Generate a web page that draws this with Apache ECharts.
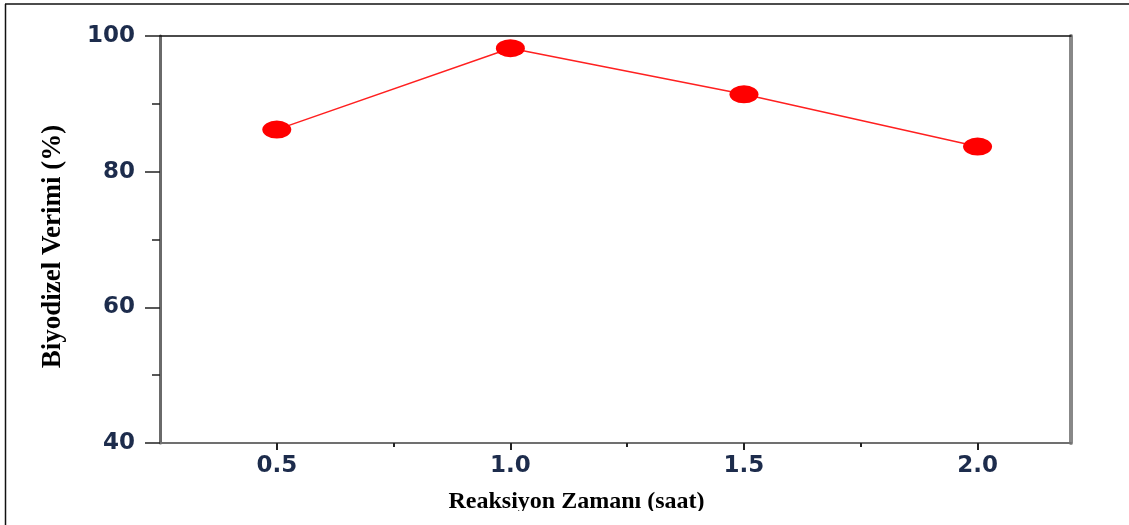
<!DOCTYPE html>
<html>
<head>
<meta charset="utf-8">
<script src="https://cdn.jsdelivr.net/npm/echarts@6/dist/echarts.min.js"></script>
<style>
html,body{margin:0;padding:0;background:#fff;}
#chart{width:1129px;height:525px;}
</style>
</head>
<body>
<div id="chart"></div>
<script>
// Data
const times = [0.5, 1.0, 1.5, 2.0];
const yields = [86.2, 98.2, 91.4, 83.7];
const xMajorTicks = [0.5, 1.0, 1.5, 2.0];
const xMinorTicks = [0.75, 1.25, 1.75];
const yTickLabels = [40, 60, 80, 100];
const xTitle = 'Reaksiyon Zamanı (saat)';
const yTitle = 'Biyodizel Verimi (%)';

const labelColor = '#1d2c4c';
const labelFont = {fontFamily: 'DejaVu Sans', fontWeight: 'bold', fontSize: 23, color: labelColor};

const chart = echarts.init(document.getElementById('chart'), null, {renderer: 'canvas'});
chart.setOption({
  animation: false,
  backgroundColor: '#ffffff',
  grid: {left: 160, right: 58, top: 36, bottom: 82, containLabel: false},
  xAxis: [
    {
      type: 'value', min: 0.25, max: 2.2, position: 'bottom',
      axisLine: {show: true, lineStyle: {color: '#707070', width: 2}},
      axisTick: {show: true, customValues: xMajorTicks, length: 7, lineStyle: {color: '#222', width: 2}},
      axisLabel: Object.assign({customValues: xMajorTicks, margin: 12, formatter: v => Number(v).toFixed(1)}, labelFont),
      splitLine: {show: false},
      name: xTitle, nameLocation: 'middle', nameGap: 47,
      nameTextStyle: {fontFamily: 'Liberation Serif', fontWeight: 'bold', fontSize: 24, color: '#000', padding: [0, 78, 0, 0]}
    },
    {
      type: 'value', min: 0.25, max: 2.2, position: 'bottom',
      axisLine: {show: false},
      axisTick: {show: true, customValues: xMinorTicks, length: 4, lineStyle: {color: '#222', width: 2}},
      axisLabel: {show: false},
      splitLine: {show: false}
    },
    {
      type: 'value', min: 0.25, max: 2.2, position: 'top',
      axisLine: {show: true, lineStyle: {color: '#111', width: 1.5}},
      axisTick: {show: false}, axisLabel: {show: false}, splitLine: {show: false}
    }
  ],
  yAxis: [
    {
      type: 'value', min: yTickLabels[0], max: yTickLabels[yTickLabels.length - 1], interval: 20, position: 'left',
      axisLine: {show: true, lineStyle: {color: '#6a6a6a', width: 3}},
      axisTick: {show: true, length: 15, lineStyle: {color: '#222', width: 1.5}},
      minorTick: {show: true, splitNumber: 2, length: 8, lineStyle: {color: '#222', width: 1.5}},
      axisLabel: Object.assign({margin: 25, formatter: v => String(v)}, labelFont),
      splitLine: {show: false},
      name: yTitle, nameLocation: 'middle', nameGap: 93,
      nameTextStyle: {fontFamily: 'Liberation Serif', fontWeight: 'bold', fontSize: 27, color: '#000', padding: [0, 14, 0, 0]}
    },
    {
      type: 'value', min: 40, max: 100, position: 'right',
      axisLine: {show: true, lineStyle: {color: '#888', width: 4}},
      axisTick: {show: false}, axisLabel: {show: false}, splitLine: {show: false}
    }
  ],
  series: [{
    type: 'line',
    xAxisIndex: 0, yAxisIndex: 0,
    data: times.map((t, i) => [t, yields[i]]),
    symbol: 'circle',
    symbolSize: [29, 18],
    itemStyle: {color: '#ff0000'},
    lineStyle: {color: '#ff2020', width: 1.5},
    z: 5
  }],
  graphic: [
    {type: 'rect', shape: {x: 8, y: 511, width: 1121, height: 14}, style: {fill: '#ffffff'}, z: 100, silent: true},
    {type: 'line', shape: {x1: 5, y1: 4, x2: 1129, y2: 4}, style: {stroke: '#111', lineWidth: 1.5}, z: 101, silent: true},
    {type: 'line', shape: {x1: 5.5, y1: 4, x2: 5.5, y2: 525}, style: {stroke: '#111', lineWidth: 1.5}, z: 101, silent: true}
  ]
});
</script>
</body>
</html>
